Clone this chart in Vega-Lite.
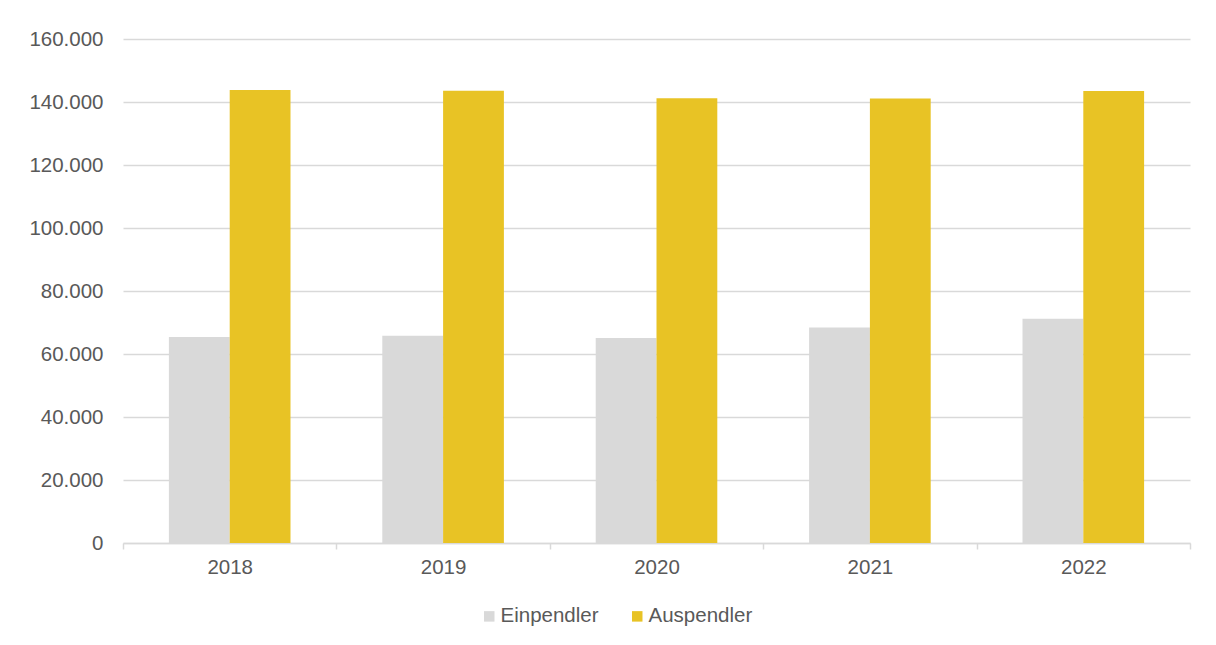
{
  "$schema": "https://vega.github.io/schema/vega-lite/v6.json",
  "width": 1067,
  "height": 504,
  "autosize": {"type": "none"},
  "padding": {"left": 123, "top": 39, "right": 26, "bottom": 102},
  "background": "white",
  "config": {
    "locale": {"number": {"decimal": ",", "thousands": ".", "grouping": [3], "currency": ["", " €"]}},
    "view": {"stroke": null},
    "font": "Liberation Sans",
    "axis": {"labelFont": "Liberation Sans", "labelFontSize": 20.5, "labelColor": "#595959", "title": null}
  },
  "data": {
    "values": [
      {"Jahr": "2018", "Art": "Einpendler", "Wert": 65400},
      {"Jahr": "2018", "Art": "Auspendler", "Wert": 143800},
      {"Jahr": "2019", "Art": "Einpendler", "Wert": 65800},
      {"Jahr": "2019", "Art": "Auspendler", "Wert": 143600},
      {"Jahr": "2020", "Art": "Einpendler", "Wert": 65100},
      {"Jahr": "2020", "Art": "Auspendler", "Wert": 141200},
      {"Jahr": "2021", "Art": "Einpendler", "Wert": 68400},
      {"Jahr": "2021", "Art": "Auspendler", "Wert": 141100},
      {"Jahr": "2022", "Art": "Einpendler", "Wert": 71200},
      {"Jahr": "2022", "Art": "Auspendler", "Wert": 143500}
    ]
  },
  "mark": {"type": "bar"},
  "encoding": {
    "x": {
      "field": "Jahr",
      "type": "nominal",
      "scale": {"paddingInner": 0, "paddingOuter": 0},
      "axis": {
        "labelAngle": 0,
        "tickBand": "extent",
        "tickColor": "#D9D9D9",
        "tickWidth": 1.5,
        "tickSize": 6,
        "domainColor": "#D9D9D9",
        "domainWidth": 1.5,
        "labelPadding": 8,
        "grid": false
      }
    },
    "xOffset": {
      "field": "Art",
      "type": "nominal",
      "scale": {"domain": ["Einpendler", "Auspendler"], "paddingInner": 0, "paddingOuter": 0.755}
    },
    "y": {
      "field": "Wert",
      "type": "quantitative",
      "scale": {"domain": [0, 160000], "nice": false},
      "axis": {
        "values": [0, 20000, 40000, 60000, 80000, 100000, 120000, 140000, 160000],
        "format": ",d",
        "domain": false,
        "ticks": false,
        "labelPadding": 20,
        "gridColor": "#D9D9D9",
        "gridWidth": 1.5
      }
    },
    "color": {
      "field": "Art",
      "type": "nominal",
      "scale": {"domain": ["Einpendler", "Auspendler"], "range": ["#D9D9D9", "#E8C325"]},
      "legend": {
        "title": null,
        "orient": "none",
        "direction": "horizontal",
        "legendX": 356,
        "legendY": 567,
        "padding": 0,
        "symbolType": "square",
        "symbolSize": 110,
        "symbolStrokeWidth": 0,
        "symbolOpacity": 1,
        "labelFont": "Liberation Sans",
        "labelFontSize": 20.5,
        "labelColor": "#595959",
        "labelOffset": 1,
        "columnPadding": 28
      }
    }
  }
}
